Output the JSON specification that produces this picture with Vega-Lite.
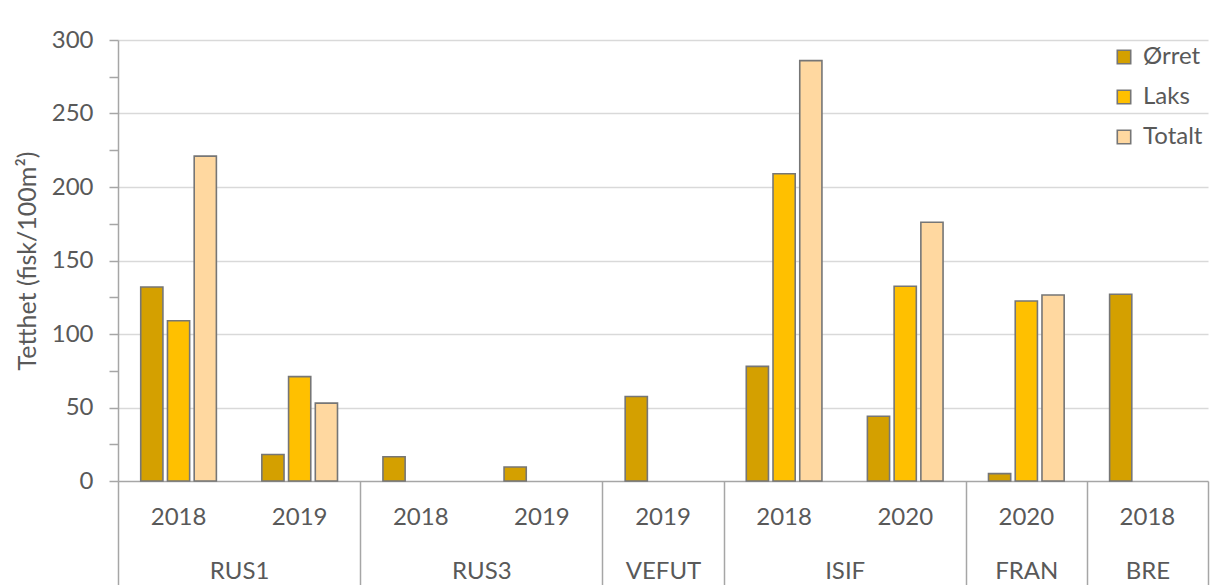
{
  "$schema": "https://vega.github.io/schema/vega-lite/v6.json",
  "width": 1090,
  "height": 441,
  "autosize": {"type": "none"},
  "padding": {"left": 118, "top": 40, "right": 7, "bottom": 104},
  "background": "white",
  "config": {
    "view": {"stroke": null},
    "font": "Lato",
    "axis": {"labelFont": "Lato", "titleFont": "Lato", "labelColor": "#595959", "titleColor": "#595959"},
    "legend": {"labelFont": "Lato"}
  },
  "layer": [
    {
      "data": {
        "values": [
          {"key": "RUS1 2018", "art": "Ørret", "value": 132},
          {"key": "RUS1 2018", "art": "Laks", "value": 109},
          {"key": "RUS1 2018", "art": "Totalt", "value": 221},
          {"key": "RUS1 2019", "art": "Ørret", "value": 18},
          {"key": "RUS1 2019", "art": "Laks", "value": 71},
          {"key": "RUS1 2019", "art": "Totalt", "value": 53},
          {"key": "RUS3 2018", "art": "Ørret", "value": 16.5},
          {"key": "RUS3 2019", "art": "Ørret", "value": 9.5},
          {"key": "VEFUT 2019", "art": "Ørret", "value": 57.5},
          {"key": "ISIF 2018", "art": "Ørret", "value": 78},
          {"key": "ISIF 2018", "art": "Laks", "value": 209},
          {"key": "ISIF 2018", "art": "Totalt", "value": 286},
          {"key": "ISIF 2020", "art": "Ørret", "value": 44},
          {"key": "ISIF 2020", "art": "Laks", "value": 132.5},
          {"key": "ISIF 2020", "art": "Totalt", "value": 176},
          {"key": "FRAN 2020", "art": "Ørret", "value": 5},
          {"key": "FRAN 2020", "art": "Laks", "value": 122.5},
          {"key": "FRAN 2020", "art": "Totalt", "value": 126.5},
          {"key": "BRE 2018", "art": "Ørret", "value": 127}
        ]
      },
      "mark": {"type": "bar", "stroke": "#767676", "strokeWidth": 1.6},
      "encoding": {
        "x": {
          "field": "key",
          "type": "nominal",
          "scale": {
            "domain": ["RUS1 2018", "RUS1 2019", "RUS3 2018", "RUS3 2019", "VEFUT 2019", "ISIF 2018", "ISIF 2020", "FRAN 2020", "BRE 2018"],
            "paddingInner": 0,
            "paddingOuter": 0
          },
          "axis": {
            "orient": "bottom",
            "title": null,
            "labelExpr": "split(datum.value, ' ')[1]",
            "ticks": false,
            "domainColor": "#A6A6A6",
            "domainWidth": 1.5,
            "labelFontSize": 24,
            "labelAngle": 0,
            "labelBaseline": "middle",
            "labelPadding": 36,
            "labelOverlap": false
          }
        },
        "xOffset": {
          "field": "art",
          "type": "nominal",
          "scale": {"domain": ["Ørret", "Laks", "Totalt"], "paddingInner": 0.17, "paddingOuter": 0.85}
        },
        "y": {
          "field": "value",
          "type": "quantitative",
          "scale": {"domain": [0, 300], "nice": false},
          "axis": {
            "title": "Tetthet (fisk/100m²)",
            "titleFontSize": 25,
            "titleFontWeight": "normal",
            "titlePadding": 11,
            "values": [0, 25, 50, 75, 100, 125, 150, 175, 200, 225, 250, 275, 300],
            "labelExpr": "datum.value % 50 == 0 ? datum.label : ''",
            "labelFontSize": 24,
            "labelPadding": 16,
            "tickSize": 9,
            "tickColor": "#A6A6A6",
            "tickWidth": 1.5,
            "domainColor": "#A6A6A6",
            "domainWidth": 1.5,
            "gridColor": "#D9D9D9",
            "gridWidth": 1.5,
            "gridOpacity": {"condition": {"test": "datum.value % 50 == 0 && datum.value > 0", "value": 1}, "value": 0}
          }
        },
        "color": {
          "field": "art",
          "type": "nominal",
          "scale": {"domain": ["Ørret", "Laks", "Totalt"], "range": ["#D4A000", "#FFC000", "#FFD8A0"]},
          "legend": {
            "orient": "none",
            "legendX": 994,
            "legendY": 5,
            "title": null,
            "symbolType": "square",
            "symbolSize": 180,
            "symbolStrokeColor": "#767676",
            "symbolStrokeWidth": 1.6,
            "symbolOpacity": 1,
            "labelFontSize": 24,
            "labelColor": "#595959",
            "rowPadding": 16,
            "labelOffset": 7,
            "padding": 0
          }
        }
      }
    },
    {
      "data": {
        "values": [
          {"pos": 1, "station": "RUS1"},
          {"pos": 3, "station": "RUS3"},
          {"pos": 4.5, "station": "VEFUT"},
          {"pos": 6, "station": "ISIF"},
          {"pos": 7.5, "station": "FRAN"},
          {"pos": 8.5, "station": "BRE"}
        ]
      },
      "mark": {"type": "text", "opacity": 0},
      "encoding": {
        "x": {
          "field": "pos",
          "type": "quantitative",
          "scale": {"domain": [0, 9], "nice": false, "zero": false},
          "axis": {
            "orient": "bottom",
            "title": null,
            "values": [0, 1, 2, 3, 4, 4.5, 5, 6, 7, 7.5, 8, 8.5, 9],
            "labelExpr": "datum.value == 1 ? 'RUS1' : datum.value == 3 ? 'RUS3' : datum.value == 4.5 ? 'VEFUT' : datum.value == 6 ? 'ISIF' : datum.value == 7.5 ? 'FRAN' : datum.value == 8.5 ? 'BRE' : ''",
            "domain": false,
            "grid": false,
            "tickSize": 104,
            "tickColor": "#A6A6A6",
            "tickWidth": 1.5,
            "tickOpacity": {"condition": {"test": "datum.value == 1 || datum.value == 3 || datum.value == 4.5 || datum.value == 6 || datum.value == 7.5 || datum.value == 8.5", "value": 0}, "value": 1},
            "labelFontSize": 24,
            "labelAngle": 0,
            "labelBaseline": "middle",
            "labelPadding": -14,
            "labelOverlap": false,
            "labelFlush": false,
            "labelBound": false
          }
        },
        "text": {"field": "station"}
      }
    }
  ],
  "resolve": {"scale": {"x": "independent", "color": "independent"}}
}
